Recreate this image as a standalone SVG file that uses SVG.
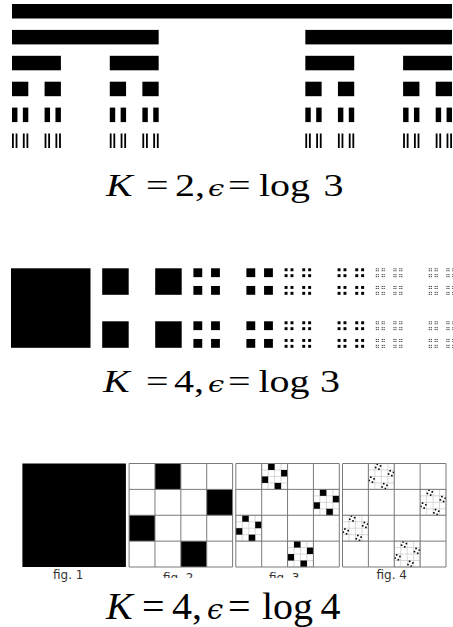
<svg xmlns="http://www.w3.org/2000/svg" width="453" height="627" viewBox="0 0 453 627">
<style>
.lbl{font-family:"Liberation Serif","DejaVu Serif",serif;font-size:40px;fill:#000}
.it{font-style:italic}
.eps{font-family:"DejaVu Serif",serif;font-style:italic;font-size:29px}
.cap{font-family:"DejaVu Sans","Liberation Sans",sans-serif;font-size:12px;fill:#333;text-anchor:middle}
.main{stroke:#7a7a7a;stroke-width:1;fill:none}
.sub{stroke:#cfcfcf;stroke-width:0.8;fill:none}
</style>
<defs>
  <rect id="c0" x="0" y="0" width="440" height="14.5"/>
  <g id="c1"><use href="#c0" transform="scale(0.333333,1)"/><use href="#c0" transform="translate(293.3333,0) scale(0.333333,1)"/></g>
  <g id="c2"><use href="#c1" transform="scale(0.333333,1)"/><use href="#c1" transform="translate(293.3333,0) scale(0.333333,1)"/></g>
  <g id="c3"><use href="#c2" transform="scale(0.333333,1)"/><use href="#c2" transform="translate(293.3333,0) scale(0.333333,1)"/></g>
  <g id="c4"><use href="#c3" transform="scale(0.333333,1)"/><use href="#c3" transform="translate(293.3333,0) scale(0.333333,1)"/></g>
  <g id="c5"><use href="#c4" transform="scale(0.333333,1)"/><use href="#c4" transform="translate(293.3333,0) scale(0.333333,1)"/></g>
  <rect id="q0" x="0" y="0" width="79.5" height="79.5"/>
  <g id="q1"><use href="#q0" transform="scale(0.333333)"/><use href="#q0" transform="translate(53,0) scale(0.333333)"/><use href="#q0" transform="translate(0,53) scale(0.333333)"/><use href="#q0" transform="translate(53,53) scale(0.333333)"/></g>
  <g id="q2"><use href="#q1" transform="scale(0.333333)"/><use href="#q1" transform="translate(53,0) scale(0.333333)"/><use href="#q1" transform="translate(0,53) scale(0.333333)"/><use href="#q1" transform="translate(53,53) scale(0.333333)"/></g>
  <g id="q3"><use href="#q2" transform="scale(0.333333)"/><use href="#q2" transform="translate(53,0) scale(0.333333)"/><use href="#q2" transform="translate(0,53) scale(0.333333)"/><use href="#q2" transform="translate(53,53) scale(0.333333)"/></g>
  <g id="q4"><use href="#q3" transform="scale(0.333333)"/><use href="#q3" transform="translate(53,0) scale(0.333333)"/><use href="#q3" transform="translate(0,53) scale(0.333333)"/><use href="#q3" transform="translate(53,53) scale(0.333333)"/></g>
  <path id="grid" vector-effect="non-scaling-stroke" d="M0,0H103.5V103.5H0Z M25.875,0V103.5 M51.75,0V103.5 M77.625,0V103.5 M0,25.875H103.5 M0,51.75H103.5 M0,77.625H103.5"/>
  <g id="F2"><rect x="25.875" y="0" width="25.875" height="25.875"/><rect x="77.625" y="25.875" width="25.875" height="25.875"/><rect x="0" y="51.75" width="25.875" height="25.875"/><rect x="51.75" y="77.625" width="25.875" height="25.875"/></g>
  <g id="F3"><use href="#F2" transform="translate(25.875,0) scale(0.25)"/><use href="#F2" transform="translate(77.625,25.875) scale(0.25)"/><use href="#F2" transform="translate(0,51.75) scale(0.25)"/><use href="#F2" transform="translate(51.75,77.625) scale(0.25)"/></g>
  <g id="F4"><use href="#F3" transform="translate(25.875,0) scale(0.25)"/><use href="#F3" transform="translate(77.625,25.875) scale(0.25)"/><use href="#F3" transform="translate(0,51.75) scale(0.25)"/><use href="#F3" transform="translate(51.75,77.625) scale(0.25)"/></g>
  <g id="SG"><use href="#grid" transform="translate(25.875,0) scale(0.25)"/><use href="#grid" transform="translate(77.625,25.875) scale(0.25)"/><use href="#grid" transform="translate(0,51.75) scale(0.25)"/><use href="#grid" transform="translate(51.75,77.625) scale(0.25)"/></g>
  <clipPath id="capclip"><rect x="0" y="560" width="453" height="18"/></clipPath>
</defs>
<rect width="453" height="627" fill="#fff"/>

<g id="cantor" transform="translate(12,0)">
  <use href="#c0" y="4"/>
  <use href="#c1" y="29.9"/>
  <use href="#c2" y="55.8"/>
  <use href="#c3" y="81.7"/>
  <use href="#c4" y="107.6"/>
  <use href="#c5" y="133.5"/>
</g>
<g id="label1"><text class="lbl" transform="translate(0,196) scale(1,0.79)"><tspan class="it" x="106">K</tspan><tspan x="146">=</tspan><tspan x="175">2,</tspan><tspan class="eps" x="208">ϵ</tspan><tspan x="228">=</tspan><tspan x="259">log</tspan><tspan x="323.5">3</tspan></text></g>

<g id="dust" transform="translate(0,268.3)">
  <use href="#q0" x="11"/>
  <use href="#q1" x="102.2"/>
  <use href="#q2" x="193.4"/>
  <use href="#q3" x="284.6"/>
  <use href="#q4" x="375.8"/>
</g>
<g id="label2"><text class="lbl" transform="translate(0,391.7) scale(1,0.79)"><tspan class="it" x="103">K</tspan><tspan x="146">=</tspan><tspan x="174">4,</tspan><tspan class="eps" x="208">ϵ</tspan><tspan x="228">=</tspan><tspan x="258.5">log</tspan><tspan x="320">3</tspan></text></g>

<g id="fig1" transform="translate(22.4,463.5)">
  <rect width="103.5" height="103.5" fill="#000"/>
</g>
<g id="fig2" transform="translate(129.1,463.5)">
  <use href="#F2"/>
  <use href="#grid" class="main"/>
</g>
<g id="fig3" transform="translate(235.8,463.5)">
  <use href="#SG" class="sub"/>
  <use href="#F3"/>
  <use href="#grid" class="main"/>
</g>
<g id="fig4" transform="translate(342.5,463.5)">
  <use href="#SG" class="sub"/>
  <use href="#F4"/>
  <use href="#grid" class="main"/>
</g>
<g id="captions">
  <text class="cap" x="68.3" y="579.2">fig. 1</text>
  <g clip-path="url(#capclip)">
    <text class="cap" x="178.3" y="581.5">fig. 2</text>
    <text class="cap" x="284.2" y="581.5">fig. 3</text>
  </g>
  <text class="cap" x="391.7" y="579.2">fig. 4</text>
</g>
<g id="label3"><text class="lbl" transform="translate(0,619) scale(1,0.93)"><tspan class="it" x="106">K</tspan><tspan x="142">=</tspan><tspan x="172">4,</tspan><tspan class="eps" x="207">ϵ</tspan><tspan x="228">=</tspan><tspan x="262">log</tspan><tspan x="320.5">4</tspan></text></g>
</svg>
